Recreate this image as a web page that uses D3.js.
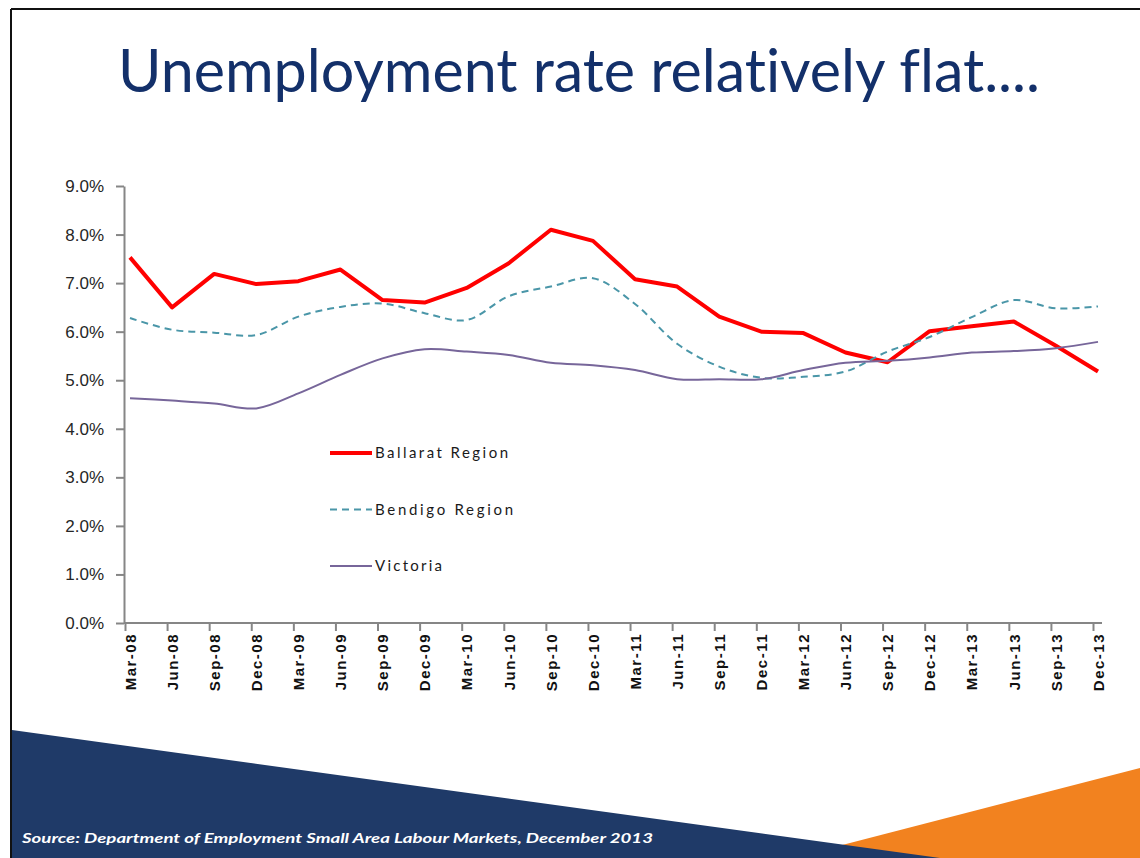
<!DOCTYPE html>
<html>
<head>
<meta charset="utf-8">
<script src="https://cdn.jsdelivr.net/npm/d3@7"></script>
<style>
  body { margin: 0; background: #fff; }
  svg { display: block; font-family: Lato, "Open Sans", sans-serif; font-variant-ligatures: none; }
  .y-axis text { font-size: 17px; fill: #262626; }
  .x-axis text { font-size: 15px; font-weight: bold; fill: #111; letter-spacing: 1.5px; }
  .axis path, .axis line { stroke: #868686; stroke-width: 2; }
</style>
</head>
<body>
<div id="chart"></div>
<script>
const quarters = ['Mar-08','Jun-08','Sep-08','Dec-08','Mar-09','Jun-09','Sep-09','Dec-09',
  'Mar-10','Jun-10','Sep-10','Dec-10','Mar-11','Jun-11','Sep-11','Dec-11',
  'Mar-12','Jun-12','Sep-12','Dec-12','Mar-13','Jun-13','Sep-13','Dec-13'];

const ballarat = [7.53, 6.50, 7.19, 6.98, 7.04, 7.28, 6.65, 6.60, 6.90, 7.41, 8.10, 7.87,
  7.08, 6.93, 6.31, 6.00, 5.97, 5.57, 5.37, 6.01, 6.11, 6.21, 5.71, 5.18];
const bendigo = [6.28, 6.04, 5.98, 5.93, 6.31, 6.51, 6.58, 6.38, 6.24, 6.73, 6.93, 7.10,
  6.57, 5.75, 5.28, 5.05, 5.07, 5.18, 5.59, 5.89, 6.30, 6.65, 6.48, 6.52];
const victoria = [4.63, 4.58, 4.52, 4.42, 4.73, 5.11, 5.45, 5.64, 5.59, 5.52, 5.36, 5.31,
  5.21, 5.02, 5.02, 5.02, 5.21, 5.36, 5.40, 5.47, 5.57, 5.60, 5.66, 5.79];

const yTicks = [0, 1, 2, 3, 4, 5, 6, 7, 8, 9];

const series = [
  { name: 'Ballarat Region', values: ballarat, color: '#ff0000', width: 4, dash: null, curve: d3.curveLinear, textLen: 133 },
  { name: 'Bendigo Region', values: bendigo, color: '#4a96a8', width: 2, dash: '7,5', curve: d3.curveCatmullRom.alpha(0.5), textLen: 138 },
  { name: 'Victoria', values: victoria, color: '#77669a', width: 2, dash: null, curve: d3.curveCatmullRom.alpha(0.5), textLen: 67 }
];

const W = 1140, H = 858;
const svg = d3.select('#chart').append('svg').attr('width', W).attr('height', H);

// slide frame
svg.append('line').attr('x1', 11).attr('x2', W).attr('y1', 9).attr('y2', 9)
  .attr('stroke', '#111').attr('stroke-width', 2);
svg.append('line').attr('x1', 11).attr('x2', 11).attr('y1', 9).attr('y2', H)
  .attr('stroke', '#111').attr('stroke-width', 2);

// title
svg.append('text')
  .attr('x', 118).attr('y', 92)
  .attr('textLength', 922).attr('lengthAdjust', 'spacingAndGlyphs')
  .attr('font-size', 60).attr('fill', '#13306a')
  .text('Unemployment rate relatively flat....');

const x = d3.scalePoint().domain(quarters).range([130, 1098]);
const y = d3.scaleLinear().domain([0, 9]).range([623, 186]);

svg.append('g').attr('class', 'axis y-axis')
  .attr('transform', 'translate(124,0)')
  .call(d3.axisLeft(y).tickValues(yTicks).tickSize(8).tickSizeOuter(0).tickPadding(12)
    .tickFormat(d => d.toFixed(1) + '%'));

const xAxis = svg.append('g').attr('class', 'axis x-axis')
  .attr('transform', 'translate(0,623)')
  .call(d3.axisBottom(x).tickSize(8).tickSizeOuter(0));
xAxis.select('.domain').attr('d', 'M124,0H1102');
xAxis.selectAll('.tick line').attr('transform', 'translate(-5,0)');
xAxis.selectAll('.tick text')
  .attr('transform', 'rotate(-90)')
  .attr('text-anchor', 'end')
  .attr('x', -10).attr('y', 0).attr('dy', '0.35em');

// lines
series.forEach(s => {
  const line = d3.line()
    .x((d, i) => x(quarters[i]))
    .y(d => y(d))
    .curve(s.curve);
  svg.append('path')
    .datum(s.values)
    .attr('d', line)
    .attr('fill', 'none')
    .attr('stroke', s.color)
    .attr('stroke-width', s.width)
    .attr('stroke-dasharray', s.dash)
    .attr('stroke-linejoin', 'round');
});

// legend
const legend = svg.append('g').attr('transform', 'translate(330,453)');
series.forEach((s, i) => {
  const row = legend.append('g').attr('transform', `translate(0,${i * 56.5})`);
  row.append('line').attr('x1', 0).attr('x2', 42)
    .attr('stroke', s.color).attr('stroke-width', s.width).attr('stroke-dasharray', s.dash);
  row.append('text').attr('x', 45).attr('dy', '0.35em')
    .attr('font-size', 15).attr('fill', '#1a1a1a')
    .attr('textLength', s.textLen).attr('lengthAdjust', 'spacing')
    .text(s.name);
});

// footer shapes
svg.append('path').attr('d', 'M1140,768L1140,858L792,858Z').attr('fill', '#f2821f');
svg.append('path').attr('d', 'M12,730L940,858L12,858Z').attr('fill', '#1f3a68');

svg.append('text')
  .attr('x', 22).attr('y', 843)
  .attr('font-size', 14).attr('font-weight', 'bold').attr('font-style', 'italic')
  .attr('fill', '#fff')
  .attr('textLength', 631).attr('lengthAdjust', 'spacingAndGlyphs')
  .text('Source: Department of Employment Small Area Labour Markets, December 2013');
</script>
</body>
</html>
